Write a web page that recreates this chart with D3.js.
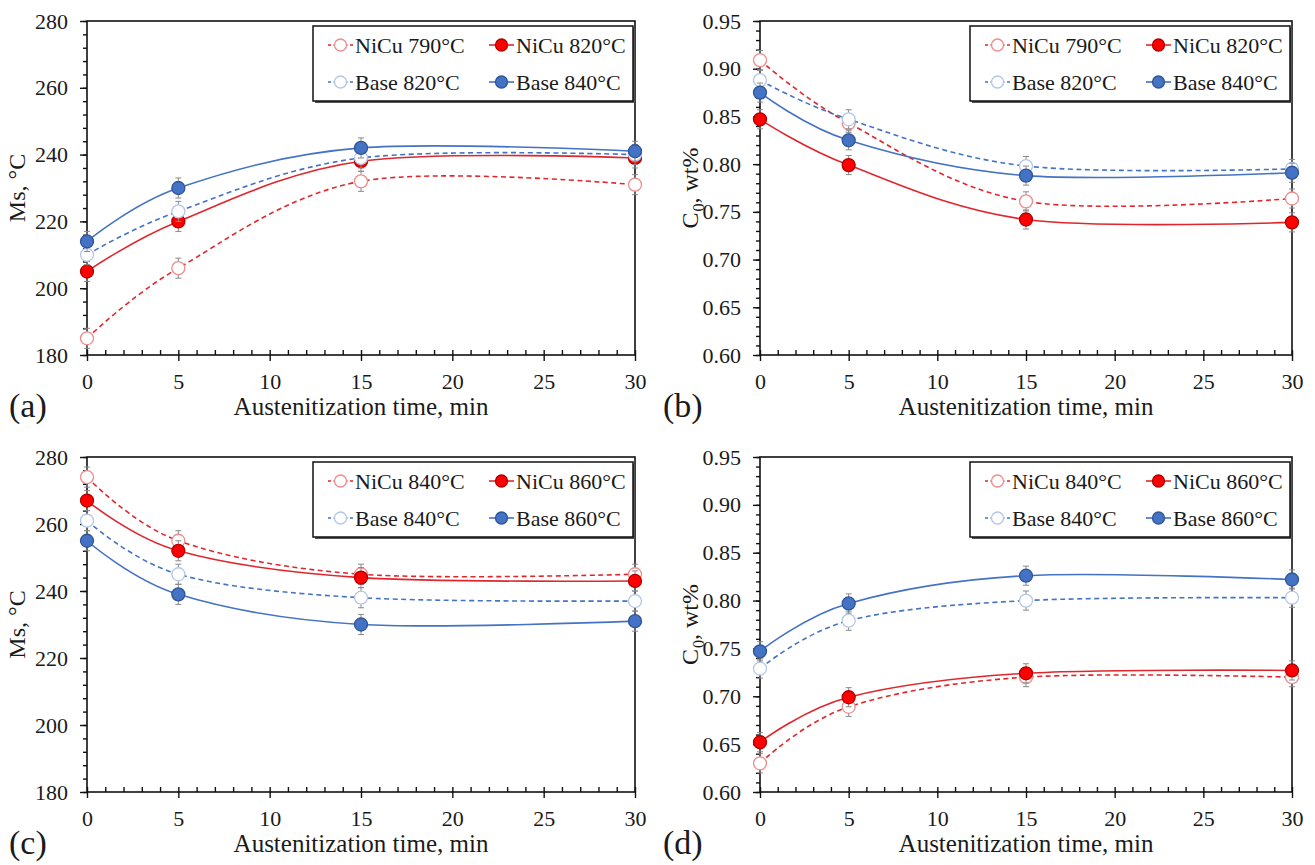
<!DOCTYPE html>
<html>
<head>
<meta charset="utf-8">
<script src="https://cdn.jsdelivr.net/npm/d3@7"></script>
<style>
	body { margin: 0; background: #fff; }
	svg text { font-family: "Liberation Serif", "Times New Roman", serif; fill: #1a1a1a; }
</style>
</head>
<body>
<svg id="chart" width="1315" height="865"></svg>
<script>
// x values shared by all four panels
const times = [0, 5, 15, 30];
const timeTicks = [0, 5, 10, 15, 20, 25, 30];

// (a) Ms vs time
const namesA = ["NiCu 790°C", "NiCu 820°C", "Base 820°C", "Base 840°C"];
const msNiCu790a = [185, 206, 232, 231];
const msNiCu820a = [205, 220, 238, 239];
const msBase820a = [210, 223, 239, 240];
const msBase840a = [214, 230, 242, 241];

// (b) C0 vs time
const namesB = ["NiCu 790°C", "NiCu 820°C", "Base 820°C", "Base 840°C"];
const cNiCu790b = [0.909, 0.843, 0.761, 0.764];
const cNiCu820b = [0.847, 0.799, 0.742, 0.739];
const cBase820b = [0.888, 0.847, 0.798, 0.795];
const cBase840b = [0.875, 0.825, 0.788, 0.791];

// (c) Ms vs time
const namesC = ["NiCu 840°C", "NiCu 860°C", "Base 840°C", "Base 860°C"];
const msNiCu840c = [274, 255, 245, 245];
const msNiCu860c = [267, 252, 244, 243];
const msBase840c = [261, 245, 238, 237];
const msBase860c = [255, 239, 230, 231];

// (d) C0 vs time
const namesD = ["NiCu 840°C", "NiCu 860°C", "Base 840°C", "Base 860°C"];
const cNiCu840d = [0.630, 0.689, 0.720, 0.720];
const cNiCu860d = [0.652, 0.699, 0.724, 0.727];
const cBase840d = [0.729, 0.779, 0.800, 0.803];
const cBase860d = [0.747, 0.797, 0.826, 0.822];

// error bar half widths
const msErr = [3, 3, 3, 3];
const cErr = [0.01, 0.01, 0.01, 0.01];

const msTicks = [180, 200, 220, 240, 260, 280];
const cTicks = [0.60, 0.65, 0.70, 0.75, 0.80, 0.85, 0.90, 0.95];

// series looks: open-dashed red, filled red, open-dashed blue, filled blue
const styles = [
	{line: "#e0262c", dash: "5,3.5", fill: "#fff", stroke: "#f08c8c"},
	{line: "#e0262c", dash: null, fill: "#ff0000", stroke: "#b00000"},
	{line: "#4472c4", dash: "5,3.5", fill: "#fff", stroke: "#b4c7e7"},
	{line: "#4472c4", dash: null, fill: "#4472c4", stroke: "#2f5597"}
];

let svg = d3.select("#chart");

function drawPanel(box, yDomain, yTicks, yMinorStep, yFmt, series, errs, names, yTitle, tag) {
	let g = svg.append("g");
	let x = d3.scaleLinear().domain([0, 30]).range([box.left, box.right]);
	let y = d3.scaleLinear().domain(yDomain).range([box.bottom, box.top]);

	//minor ticks
	let yMinor = d3.range(yDomain[0], yDomain[1] + yMinorStep / 2, yMinorStep);
	g.append("g")
		.attr("transform", "translate(" + box.left + ",0)")
		.call(d3.axisLeft(y).tickValues(yMinor).tickSize(4).tickFormat(""))
		.call(a => a.select(".domain").remove())
		.selectAll("line").attr("stroke", "#111").attr("stroke-width", 1.4);
	g.append("g")
		.attr("transform", "translate(0," + box.bottom + ")")
		.call(d3.axisBottom(x).tickValues(d3.range(0, 31, 1)).tickSize(-5).tickFormat(""))
		.call(a => a.select(".domain").remove())
		.selectAll("line").attr("stroke", "#111").attr("stroke-width", 1.4);

	//major ticks and labels
	let ya = g.append("g")
		.attr("transform", "translate(" + box.left + ",0)")
		.call(d3.axisLeft(y).tickValues(yTicks).tickSize(7).tickPadding(12).tickFormat(yFmt));
	ya.select(".domain").remove();
	ya.attr("font-size", 22).attr("font-family", null);
	ya.selectAll("line").attr("stroke", "#111").attr("stroke-width", 1.4);

	let xa = g.append("g")
		.attr("transform", "translate(0," + box.bottom + ")")
		.call(d3.axisBottom(x).tickValues(timeTicks).tickSize(6).tickPadding(12));
	xa.select(".domain").remove();
	xa.attr("font-size", 22).attr("font-family", null);
	xa.selectAll("line").attr("stroke", "#111").attr("stroke-width", 1.4);

	//frame
	g.append("rect")
		.attr("x", box.left).attr("y", box.top)
		.attr("width", box.right - box.left).attr("height", box.bottom - box.top)
		.attr("fill", "none").attr("stroke", "#111").attr("stroke-width", 1.6);

	let line = d3.line()
		.x(d => x(d.t))
		.y(d => y(d.v))
		.curve(d3.curveCardinal.tension(0));

	for (let s = 0; s < series.length; s++) {
		let pts = times.map((t, i) => ({t: t, v: series[s][i], e: errs[i]}));
		let st = styles[s];
		let sg = g.append("g");

		//error bars
		let eb = sg.selectAll(".eb").data(pts).enter().append("g").attr("class", "eb");
		eb.append("line")
			.attr("x1", d => x(d.t)).attr("x2", d => x(d.t))
			.attr("y1", d => y(d.v - d.e)).attr("y2", d => y(d.v + d.e))
			.attr("stroke", "#8a8a8a").attr("stroke-width", 1);
		eb.append("line")
			.attr("x1", d => x(d.t) - 3).attr("x2", d => x(d.t) + 3)
			.attr("y1", d => y(d.v + d.e)).attr("y2", d => y(d.v + d.e))
			.attr("stroke", "#8a8a8a").attr("stroke-width", 1);
		eb.append("line")
			.attr("x1", d => x(d.t) - 3).attr("x2", d => x(d.t) + 3)
			.attr("y1", d => y(d.v - d.e)).attr("y2", d => y(d.v - d.e))
			.attr("stroke", "#8a8a8a").attr("stroke-width", 1);

		sg.append("path")
			.attr("d", line(pts))
			.attr("fill", "none")
			.attr("stroke", st.line)
			.attr("stroke-width", 1.6)
			.attr("stroke-dasharray", st.dash);

		sg.selectAll("circle").data(pts).enter().append("circle")
			.attr("cx", d => x(d.t)).attr("cy", d => y(d.v))
			.attr("r", 6.5)
			.attr("fill", st.fill)
			.attr("stroke", st.stroke)
			.attr("stroke-width", 1.3);
	}

	//legend
	let lw = 320, lh = 75;
	let lx = box.right - 2 - lw, ly = box.top + 5;
	g.append("rect")
		.attr("x", lx + 2).attr("y", ly + 2).attr("width", lw).attr("height", lh)
		.attr("fill", "#555");
	g.append("rect")
		.attr("x", lx).attr("y", ly).attr("width", lw).attr("height", lh)
		.attr("fill", "#fff").attr("stroke", "#111").attr("stroke-width", 1.5);
	let order = [[0, 0], [1, 0], [0, 1], [1, 1]];
	for (let s = 0; s < names.length; s++) {
		let st = styles[s];
		let cx = lx + (order[s][0] == 0 ? 15 : 176);
		let cy = ly + (order[s][1] == 0 ? 19 : 56);
		g.append("line")
			.attr("x1", cx).attr("x2", cx + 25).attr("y1", cy).attr("y2", cy)
			.attr("stroke", st.line).attr("stroke-width", 1.6)
			.attr("stroke-dasharray", st.dash ? "3,2.5" : null);
		g.append("circle")
			.attr("cx", cx + 12.5).attr("cy", cy).attr("r", 6)
			.attr("fill", st.fill).attr("stroke", st.stroke).attr("stroke-width", 1.3);
		g.append("text")
			.attr("x", cx + 27).attr("y", cy + 7.5)
			.attr("font-size", 22)
			.text(names[s]);
	}

	//axis titles
	g.append("text")
		.attr("x", (box.left + box.right) / 2).attr("y", box.bottom + 60)
		.attr("text-anchor", "middle").attr("font-size", 25)
		.text("Austenitization time, min");
	let yt = g.append("text")
		.attr("transform", "translate(" + (box.left - 62) + "," + ((box.top + box.bottom) / 2) + ") rotate(-90)")
		.attr("text-anchor", "middle").attr("font-size", 24);
	yTitle(yt);

	g.append("text")
		.attr("x", box.left - (box.left > 400 ? 97 : 78)).attr("y", box.bottom + 62)
		.attr("font-size", 34)
		.text(tag);
}

function msTitle(t) {
	t.text("Ms, °C");
}
function cTitle(t) {
	t.append("tspan").text("C");
	t.append("tspan").attr("font-size", 16).attr("dx", 1).attr("dy", 6).text("0");
	t.append("tspan").attr("dy", -6).text(", wt%");
}

let boxA = {left: 87, right: 635, top: 21, bottom: 355};
let boxB = {left: 760, right: 1292, top: 21, bottom: 355};
let boxC = {left: 87, right: 635, top: 457, bottom: 792};
let boxD = {left: 760, right: 1292, top: 457, bottom: 792};

drawPanel(boxA, [180, 280], msTicks, 4, d3.format("d"),
	[msNiCu790a, msNiCu820a, msBase820a, msBase840a], msErr, namesA, msTitle, "(a)");
drawPanel(boxB, [0.60, 0.95], cTicks, 0.01, d3.format(".2f"),
	[cNiCu790b, cNiCu820b, cBase820b, cBase840b], cErr, namesB, cTitle, "(b)");
drawPanel(boxC, [180, 280], msTicks, 4, d3.format("d"),
	[msNiCu840c, msNiCu860c, msBase840c, msBase860c], msErr, namesC, msTitle, "(c)");
drawPanel(boxD, [0.60, 0.95], cTicks, 0.01, d3.format(".2f"),
	[cNiCu840d, cNiCu860d, cBase840d, cBase860d], cErr, namesD, cTitle, "(d)");
</script>
</body>
</html>
